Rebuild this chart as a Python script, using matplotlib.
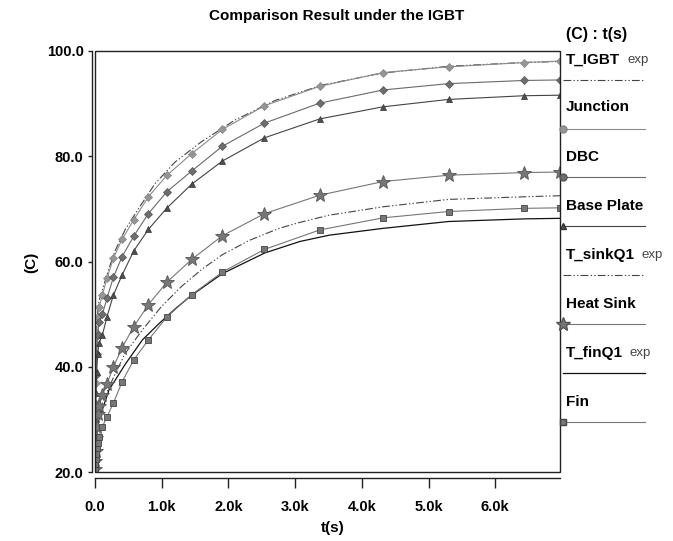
import matplotlib
matplotlib.use("Agg")
import matplotlib.pyplot as plt
from matplotlib.lines import Line2D
from matplotlib.patches import Rectangle
from matplotlib.ticker import FuncFormatter, FixedLocator

# ---------------- data ----------------
t_sim = [0, 3, 8, 15, 25, 40, 60, 110, 180, 275, 405, 580, 800, 1080, 1450,
         1910, 2540, 3370, 4320, 5300, 6430, 6970]
junction = [21, 30, 37, 42.5, 46.5, 49.5, 51.4, 53.6, 56.8, 60.6, 64.2, 67.9, 72.3,
            76.4, 80.5, 85.1, 89.6, 93.3, 95.9, 97.0, 97.8, 98.1]
dbc = [20.5, 27, 33, 38.5, 42.5, 46, 48.5, 50.0, 53.0, 57.0, 60.9, 64.8, 69.1,
       73.3, 77.2, 81.9, 86.3, 90.1, 92.6, 93.8, 94.4, 94.5]
base_plate = [20.5, 25, 30, 35, 39, 42.5, 44.5, 46.0, 49.5, 53.6, 57.4, 62.0, 66.1,
              70.2, 74.7, 79.1, 83.5, 87.1, 89.4, 90.8, 91.5, 91.6]
heat_sink = [20.5, 22, 24, 26.5, 28.5, 31.0, 32.5, 34.6, 36.8, 39.9, 43.6, 47.6, 51.8,
             56.1, 60.4, 64.9, 69.1, 72.6, 75.2, 76.4, 76.9, 77.0]
fin = [20.5, 21.5, 22.5, 23.5, 24.5, 25.6, 26.7, 28.6, 30.5, 33.1, 37.1, 41.3, 45.1,
       49.5, 53.7, 58.0, 62.3, 66.0, 68.3, 69.5, 70.1, 70.2]

t_igbt_exp = [0, 20, 60, 120, 200, 300, 450, 650, 900, 1200, 1600, 2100, 2700,
              3400, 4300, 5300, 6400, 6970]
igbt_exp = [30, 48, 52.5, 55, 58.3, 62, 66, 70, 74.8, 78.9, 82.8, 86.9, 90.6,
            93.5, 95.8, 97.1, 97.8, 98.0]
t_sink_exp = [0, 50, 120, 260, 450, 710, 1000, 1300, 1610, 1910, 2310, 2760, 3060,
              3510, 4320, 5300, 6440, 6970]
sink_exp = [24, 30, 33.5, 37.5, 42.5, 47.0, 51.5, 55.3, 58.6, 61.3, 64.0, 66.3, 67.4,
            68.8, 70.4, 71.8, 72.3, 72.5]
t_fin_exp = [0, 60, 210, 460, 710, 960, 1210, 1450, 1910, 2540, 3070, 3510, 4320,
             5300, 6440, 6970]
fin_exp = [26, 30, 35.6, 40.6, 45.1, 48.2, 51.1, 53.6, 57.7, 61.6, 63.8, 65.0, 66.3,
           67.6, 68.1, 68.2]

x_ticks = [0, 1000, 2000, 3000, 4000, 5000, 6000]
y_ticks = [20, 40, 60, 80, 100]

title = "Comparison Result under the IGBT"
legend_title = "(C) : t(s)"

# ---------------- figure ----------------
W, H = 673, 541
plt.rcParams['font.family'] = ['Liberation Sans', 'DejaVu Sans']
fig = plt.figure(figsize=(W / 100, H / 100), dpi=100)
fig.patch.set_facecolor('white')


def fx(px):
    return px / W


def fy(py):
    return 1 - py / H


ax = fig.add_axes([fx(95), fy(472), (560 - 95) / W, (472 - 51) / H])
ax.set_xlim(0, 6970)
ax.set_ylim(20, 100)

DASH = (0, (7, 2, 1.2, 2, 1.2, 2))

ax.plot(t_fin_exp, fin_exp, color='#111111', lw=0.9, zorder=3)
ax.plot(t_sink_exp, sink_exp, color='#444444', lw=0.8, linestyle=DASH, zorder=3)
ax.plot(t_igbt_exp, igbt_exp, color='#444444', lw=0.8, linestyle=DASH, zorder=3)

ax.plot(t_sim, junction, color='#8c8c8c', lw=0.8, marker='D', ms=4,
        mfc='#959595', mec='#858585', mew=0.5, zorder=4)
ax.plot(t_sim, dbc, color='#6a6a6a', lw=0.8, marker='D', ms=4,
        mfc='#6e6e6e', mec='#555555', mew=0.5, zorder=4)
ax.plot(t_sim, base_plate, color='#444444', lw=0.8, marker='^', ms=5,
        mfc='#505050', mec='#333333', mew=0.5, zorder=4)
ax.plot(t_sim, heat_sink, color='#777777', lw=0.8, marker='*', ms=10,
        mfc='#777777', mec='#555555', mew=0.6, zorder=4)
ax.plot(t_sim, fin, color='#777777', lw=0.8, marker='s', ms=5,
        mfc='#777777', mec='#444444', mew=0.6, zorder=4)

# box + offset axes
ax.add_patch(Rectangle((0, 0), 1, 1, transform=ax.transAxes, fill=False,
                       lw=1.0, ec='#222222', clip_on=False, zorder=6))
for s in ['top', 'right']:
    ax.spines[s].set_visible(False)
ax.spines['left'].set_position(('outward', 2.4))
ax.spines['bottom'].set_position(('outward', 4.1))
ax.spines['left'].set_color('#222222')
ax.spines['bottom'].set_color('#222222')
ax.spines['left'].set_linewidth(1.0)
ax.spines['bottom'].set_linewidth(1.0)

ax.xaxis.set_major_locator(FixedLocator(x_ticks))
ax.yaxis.set_major_locator(FixedLocator(y_ticks))
ax.xaxis.set_major_formatter(FuncFormatter(lambda v, p: "0.0" if v == 0 else f"{v/1000:.1f}k"))
ax.yaxis.set_major_formatter(FuncFormatter(lambda v, p: f"{v:.1f}"))
ax.tick_params(axis='x', direction='out', length=7.3, width=1.0, color='#222222',
               pad=9, labelsize=10.5)
ax.tick_params(axis='y', direction='out', length=2.8, width=1.0, color='#222222',
               pad=3, labelsize=10.5)
for lab in ax.get_xticklabels() + ax.get_yticklabels():
    lab.set_fontweight('bold')

fig.text(0.5, fy(16), title, ha='center', va='center', fontsize=11, fontweight='bold')
fig.text(fx(333), fy(528), "t(s)", ha='center', va='center', fontsize=11, fontweight='bold')
fig.text(fx(31), fy(262), "(C)", ha='center', va='center', fontsize=11,
         fontweight='bold', rotation=90)

# ---------------- legend (right side) ----------------
fig.text(fx(566), fy(35), legend_title, ha='left', va='center', fontsize=11.5,
         fontweight='bold')

entries = [
    ("T_IGBT", True, 60, 80, dict(color='#444444', lw=0.8, linestyle=DASH)),
    ("Junction", False, 107, 129, dict(color='#8c8c8c', lw=0.8, marker='o', ms=5,
                                      mfc='#959595', mec='#858585')),
    ("DBC", False, 157, 177, dict(color='#6a6a6a', lw=0.8, marker='o', ms=5,
                                 mfc='#6e6e6e', mec='#555555')),
    ("Base Plate", False, 206, 226, dict(color='#444444', lw=0.8, marker='^', ms=5,
                                        mfc='#505050', mec='#333333')),
    ("T_sinkQ1", True, 255, 275, dict(color='#444444', lw=0.8, linestyle=DASH)),
    ("Heat Sink", False, 304, 324, dict(color='#777777', lw=0.8, marker='*', ms=10,
                                       mfc='#777777', mec='#555555')),
    ("T_finQ1", True, 353, 373, dict(color='#111111', lw=0.9)),
    ("Fin", False, 402, 422, dict(color='#777777', lw=0.8, marker='s', ms=5,
                                 mfc='#777777', mec='#444444')),
]

fig.canvas.draw()
renderer = fig.canvas.get_renderer()
for name, is_exp, ty, ly, style in entries:
    t = fig.text(fx(566), fy(ty), name, ha='left', va='center', fontsize=11,
                 fontweight='bold')
    if is_exp:
        bb = t.get_window_extent(renderer)
        fig.text(fx(bb.x1 + 7), fy(ty), "exp", ha='left', va='center', fontsize=9.5,
                 color='#444444')
    ln = Line2D([fx(563), fx(645)], [fy(ly), fy(ly)], transform=fig.transFigure,
                markevery=[0], **style)
    fig.add_artist(ln)

fig.savefig("out.png", dpi=100, facecolor='white')
